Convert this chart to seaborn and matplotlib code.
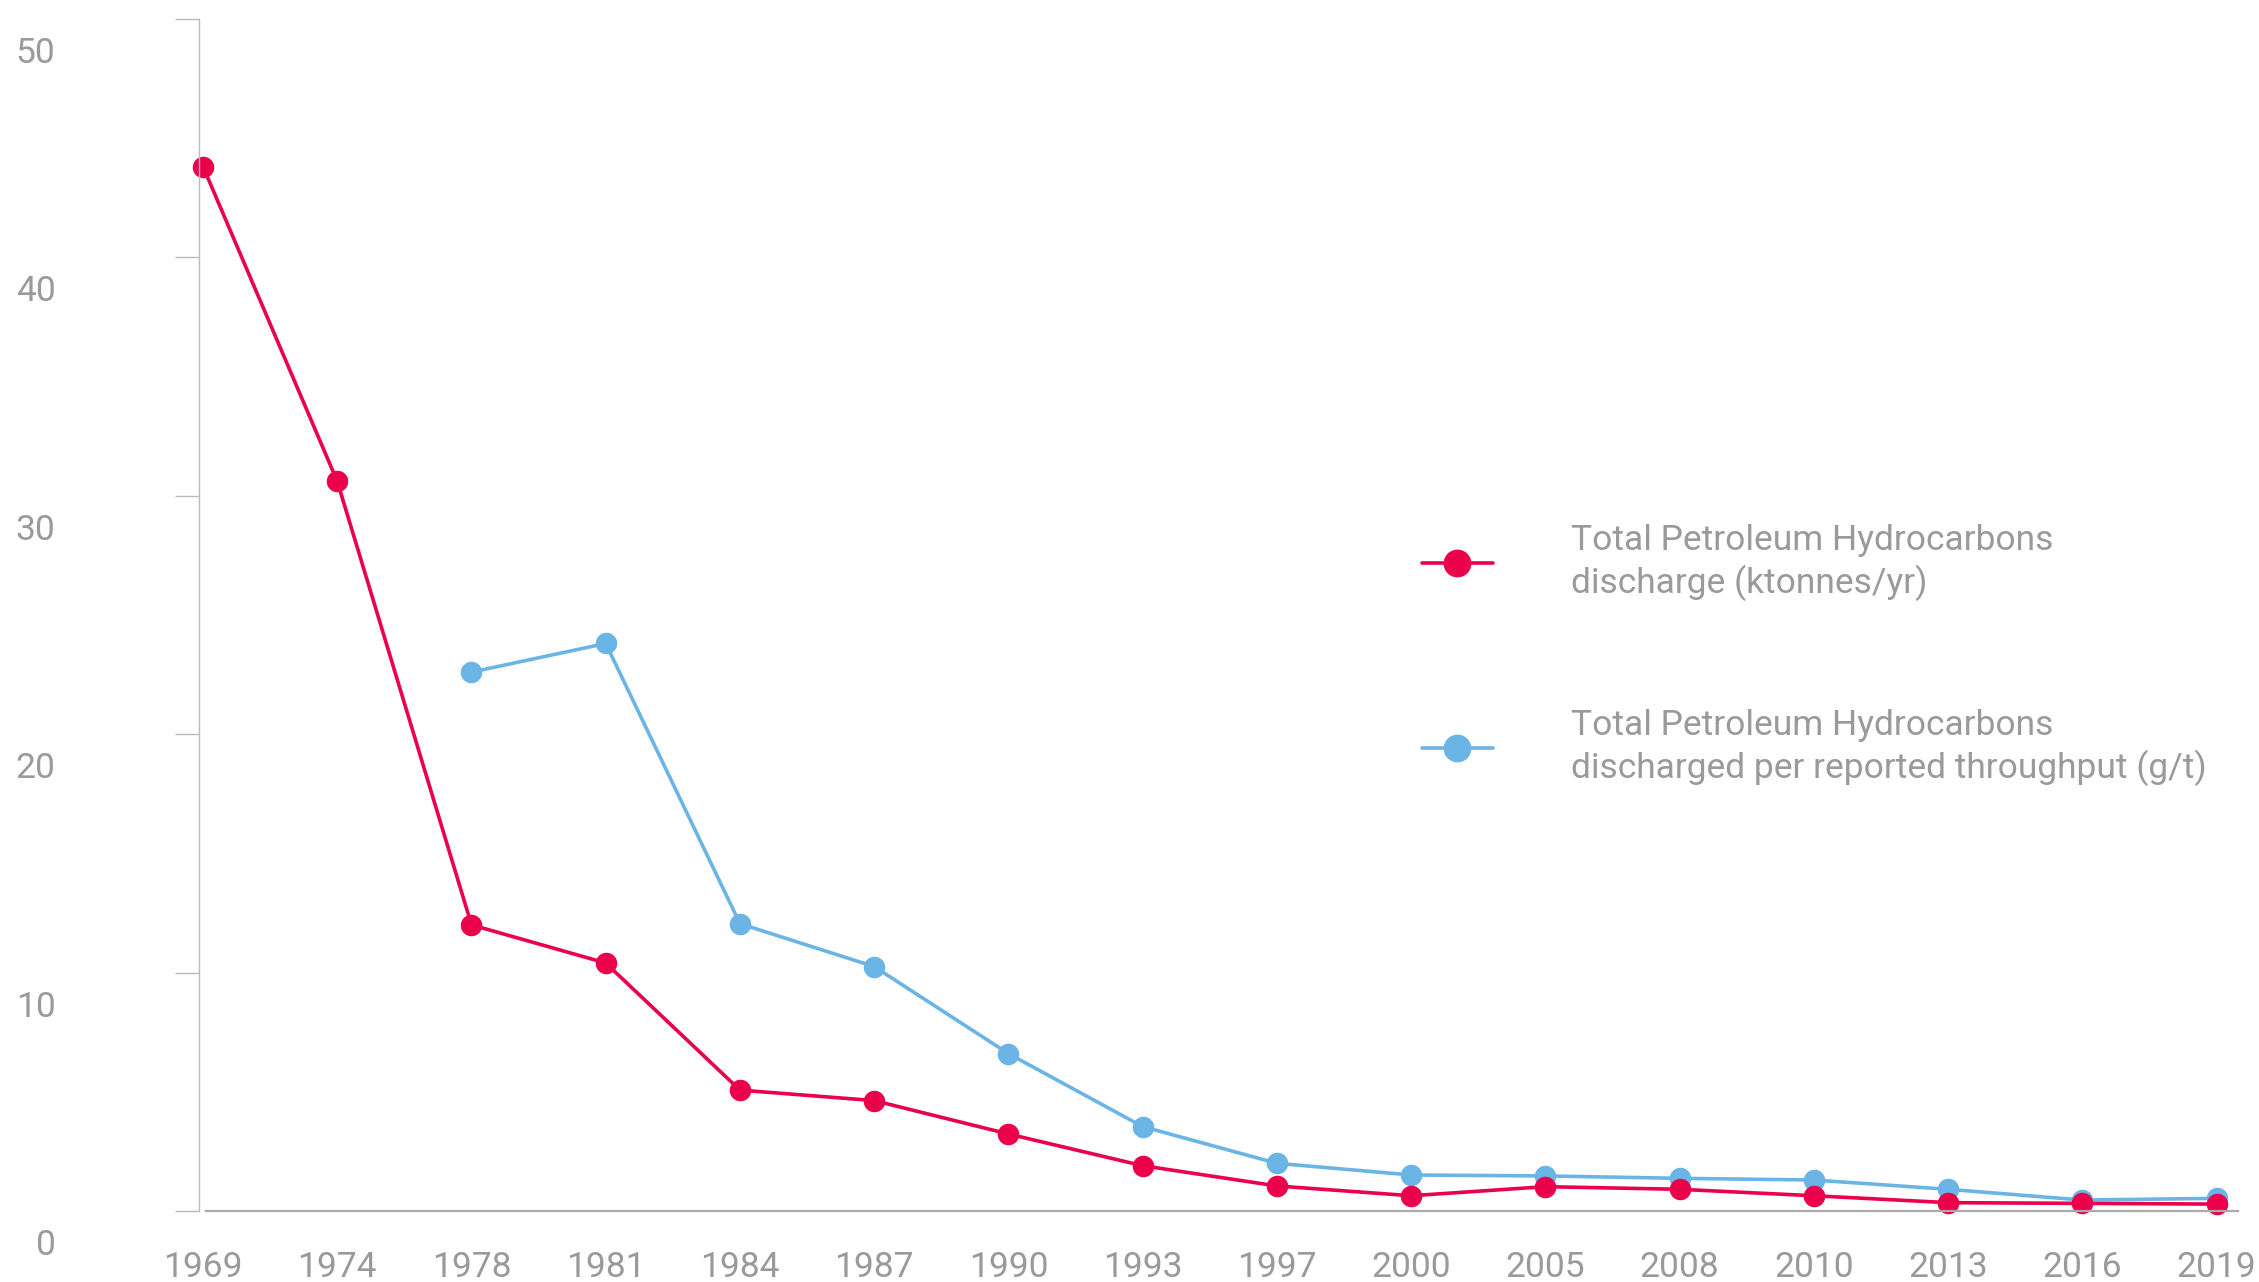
import matplotlib
matplotlib.use("Agg")
import numpy as np
import pandas as pd
import seaborn as sns
import matplotlib.pyplot as plt
from matplotlib.lines import Line2D
from matplotlib.transforms import ScaledTranslation

# ---- data ----
years = ["1969", "1974", "1978", "1981", "1984", "1987", "1990", "1993",
         "1997", "2000", "2005", "2008", "2010", "2013", "2016", "2019"]
tph_discharge = [43.8, 30.6, 12.0, 10.4, 5.07, 4.63, 3.23, 1.9,
                 1.05, 0.64, 1.02, 0.91, 0.64, 0.35, 0.32, 0.29]
tph_per_throughput = [np.nan, np.nan, 22.6, 23.8, 12.05, 10.25, 6.6, 3.54,
                      2.0, 1.51, 1.47, 1.37, 1.3, 0.91, 0.46, 0.53]
label_discharge = "Total Petroleum Hydrocarbons\ndischarge (ktonnes/yr)"
label_throughput = "Total Petroleum Hydrocarbons\ndischarged per reported throughput (g/t)"
y_ticks = [0, 10, 20, 30, 40, 50]

RED = "#EB004C"
BLUE = "#6BB4E6"
GREY_TXT = "#9a9a9a"

sns.set_theme(style="white")
plt.rcParams["font.family"] = ["Liberation Sans Narrow", "Roboto", "DejaVu Sans"]

W, H = 2259, 1282
fig = plt.figure(figsize=(W / 100, H / 100), dpi=100)
x0, x1 = 199, 2238
y_top, y_bot = 18.75, 1211
ax = fig.add_axes([x0 / W, 1 - y_bot / H, (x1 - x0) / W, (y_bot - y_top) / H])

df = pd.DataFrame({
    "year": years * 2,
    "value": tph_discharge + tph_per_throughput,
    "series": [label_discharge] * len(years) + [label_throughput] * len(years),
})

sns.lineplot(data=df, x="year", y="value", hue="series",
             hue_order=[label_throughput, label_discharge],
             palette={label_discharge: RED, label_throughput: BLUE},
             marker="o", markersize=15.5, markeredgewidth=0, linewidth=2.6,
             sort=False, legend=False, ax=ax)
for ln in ax.lines:
    ln.set_clip_on(False)

ax.set_ylim(0, 50)
ax.set_xlim(-0.03, 15.16)
ax.set_yticks(y_ticks)
ax.set_xlabel("")
ax.set_ylabel("")

for s in ["top", "right"]:
    ax.spines[s].set_visible(False)
ax.spines["left"].set_color("#bbbbbb")
ax.spines["left"].set_linewidth(1.0)
ax.spines["bottom"].set_color("#aaaaaa")
ax.spines["bottom"].set_linewidth(1.6)
ax.spines["bottom"].set_bounds(0.02, 15.16)

ax.tick_params(axis="y", which="major", length=17.3, width=1, color="#bbbbbb",
               pad=86, labelsize=25.5, labelcolor=GREY_TXT, left=True, direction="out")
ax.tick_params(axis="x", which="major", length=0, pad=29, labelsize=25.5,
               labelcolor=GREY_TXT)
ax.grid(False)

offset = ScaledTranslation(0, -31 / 100, fig.dpi_scale_trans)
for tick in ax.yaxis.get_major_ticks():
    tick.label1.set_transform(tick.label1.get_transform() + offset)

handles = [
    Line2D([], [], color=RED, marker="o", markersize=20, markeredgewidth=0, linewidth=2.6),
    Line2D([], [], color=BLUE, marker="o", markersize=20, markeredgewidth=0, linewidth=2.6),
]
leg = ax.legend(handles, [label_discharge, label_throughput],
                loc="center left", bbox_to_anchor=(1422 / W, 1 - 655 / H),
                bbox_transform=fig.transFigure, frameon=False, fontsize=25.5,
                labelcolor=GREY_TXT, handlelength=2.0, handletextpad=2.2,
                labelspacing=3.05, borderpad=0, borderaxespad=0)
for t in leg.get_texts():
    t.set_linespacing(1.27)

fig.savefig("out.png", dpi=100, facecolor="white")
